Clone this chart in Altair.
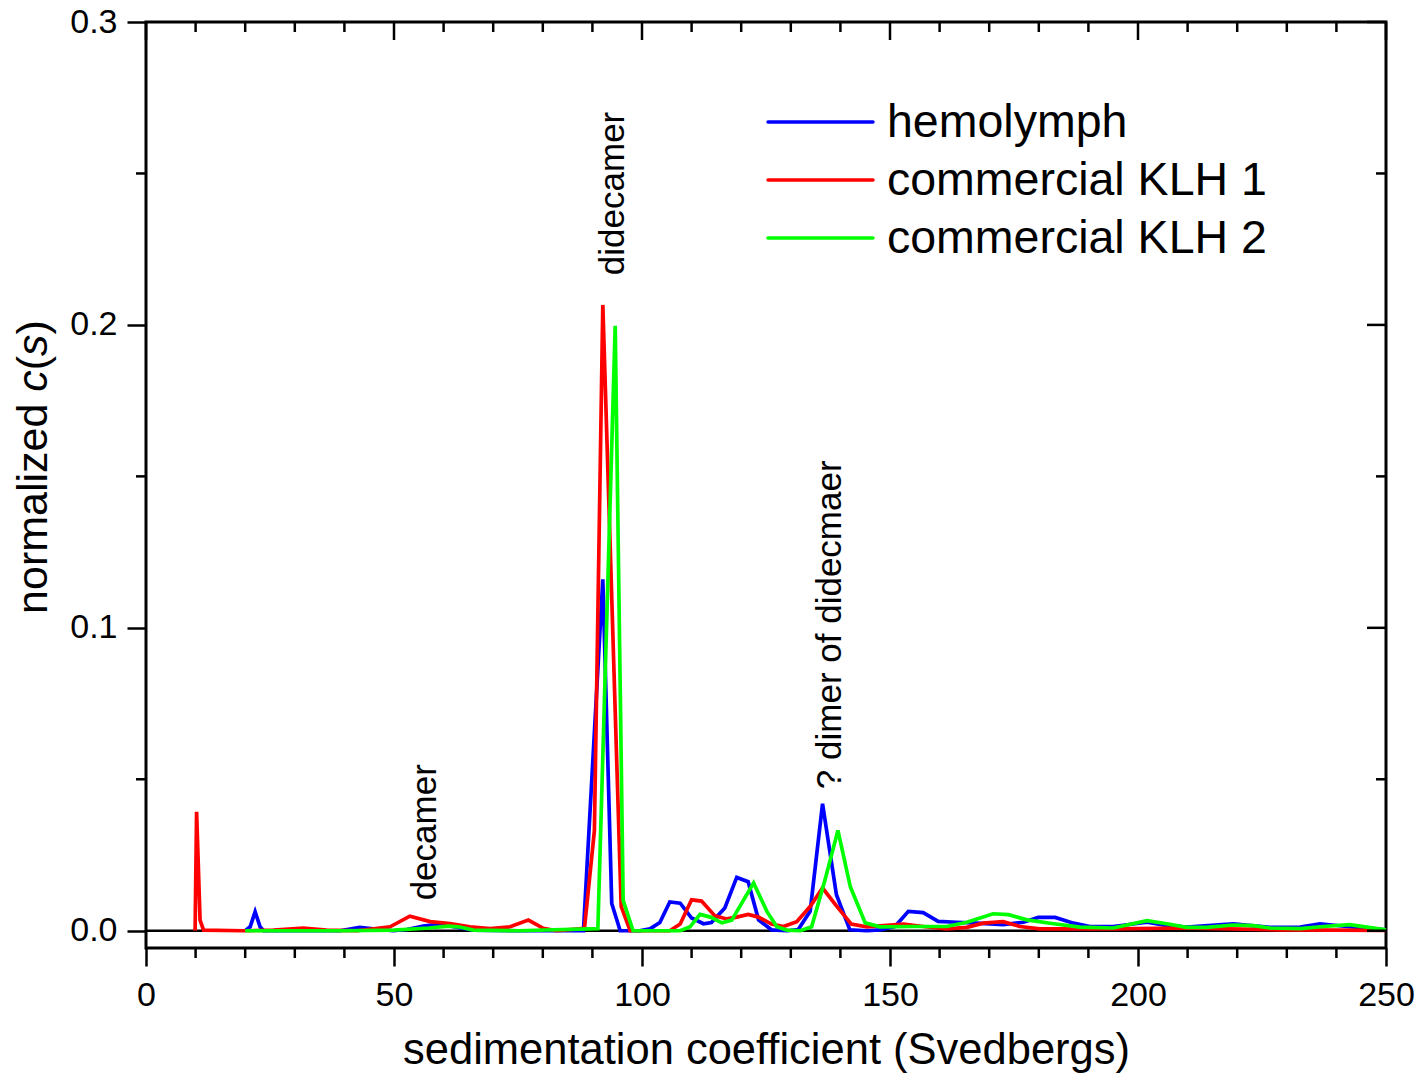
import altair as alt
import pandas as pd

# ---------------- data ----------------
series_names = ["hemolymph", "commercial KLH 1", "commercial KLH 2"]
series_colors = ["#0000ff", "#ff0000", "#00ff00"]

blue_s = [20, 21.0, 22.0, 23.0, 23.7, 30, 39.1, 43.1, 45.8, 49.9, 52.6, 55.9, 59.3, 62.0, 66.0, 75,
          88.2, 92.1, 93.9, 95.6, 99.5, 101.6, 103.6, 105.6, 107.7, 110.0, 112.4, 114.0, 116.7,
          119.1, 121.4, 123.5, 126.1, 129.2, 131.5, 133.9, 136.4, 139.2, 141.9, 145.3, 148.0,
          151.0, 153.7, 156.7, 159.7, 163.4, 167.5, 172.8, 176.9, 179.9, 183.3, 187.0, 190.3,
          195.0, 201.8, 205.1, 209.8, 219.2, 226.6, 232.7, 236.7, 242.1, 250]
blue_c = [0, 0.0013, 0.0063, 0.0013, 0, 0, 0, 0.0011, 0.0006, 0, 0.0004, 0.0015, 0.0022, 0.0013, 0.0002, 0,
          0, 0.116, 0.009, 0, 0, 0.0006, 0.0027, 0.0095, 0.0091, 0.0042, 0.0023, 0.0027, 0.0075,
          0.0176, 0.0162, 0.0036, 0.0003, 0, 0.0004, 0.0064, 0.0419, 0.0119, 0.0003, 0, 0.0003,
          0.0014, 0.0064, 0.0060, 0.0031, 0.0028, 0.0025, 0.0020, 0.0028, 0.0044, 0.0044, 0.0025, 0.0014,
          0.0014, 0.0028, 0.0019, 0.0012, 0.0023, 0.0011, 0.0012, 0.0023, 0.0014, 0.0003]

red_s = [9.9, 10.2, 10.9, 11.6, 19.6, 25.7, 31.7, 36.4, 42.5, 49.2, 53.2, 57.3, 61.3, 65.3, 69.4,
         73.4, 77.1, 80.1, 82.8, 88.4, 90.4, 92.1, 95.8, 97.6, 100, 105.6, 107.7, 110.0, 112.0,
         114.7, 117.1, 119.1, 121.4, 123.5, 126.1, 128.5, 131.2, 133.9, 136.4, 139.2, 142.2,
         145.3, 148.0, 152.7, 156.7, 161.4, 165.5, 168.8, 172.8, 176.2, 180.2, 185.6, 195.0,
         208.5, 228.6, 250]
red_c = [0, 0.0393, 0.0035, 0.0002, 0, 0.0002, 0.0009, 0.0002, 0, 0.0013, 0.0048, 0.0030, 0.0024, 0.0013, 0.0007,
         0.0013, 0.0035, 0.0008, 0, 0.0008, 0.033, 0.2066, 0.008, 0, 0, 0, 0.0022, 0.0102, 0.0098,
         0.0049, 0.0039, 0.0045, 0.0054, 0.0045, 0.0022, 0.0014, 0.0030, 0.0080, 0.0141, 0.0082, 0.0022,
         0.0013, 0.0016, 0.0022, 0.0014, 0.0006, 0.0011, 0.0025, 0.0030, 0.0014, 0.0006, 0.0006, 0.0006,
         0.0009, 0.0003, 0.0001]

green_s = [20, 30, 40, 50, 57.0, 61.0, 63.0, 66.0, 75, 91.1, 94.6, 96.2, 98.2, 105, 107.7, 109.7,
           111.7, 113.8, 116.1, 118.1, 122.5, 125.2, 127.2, 129.2, 131.9, 134.2, 136.9, 139.5,
           142.0, 145.0, 148.0, 154.7, 161.4, 165.5, 170.8, 173.9, 177.6, 183.0, 188.3, 195.0,
           201.8, 205.8, 209.8, 213.8, 219.2, 223.3, 226.6, 232.7, 237.4, 242.7, 250]
green_c = [0, 0, 0, 0.0002, 0.0009, 0.0015, 0.0013, 0.0002, 0, 0.0007, 0.1997, 0.010, 0, 0, 0, 0.0013,
           0.0054, 0.0045, 0.0026, 0.0035, 0.0158, 0.0063, 0.0013, 0.0002, 0, 0.0013, 0.0168, 0.0331,
           0.0145, 0.0026, 0.0013, 0.0014, 0.0014, 0.0028, 0.0056, 0.0053, 0.0036, 0.0023, 0.0012, 0.0009,
           0.0033, 0.0023, 0.0011, 0.0011, 0.0019, 0.0017, 0.0009, 0.0007, 0.0014, 0.0020, 0.0003]

x_major_ticks = [0, 50, 100, 150, 200, 250]
x_minor_ticks = [v for v in range(0, 251, 10) if v % 50 != 0]
y_major_ticks = [0.0, 0.1, 0.2, 0.3]
y_minor_ticks = [0.05, 0.15, 0.25]

annotations = ["didecamer", "decamer", "? dimer of didecmaer"]
annot_s = [94.15, 56.25, 137.9]
annot_c = [0.2434, 0.0325, 0.101]

x_title = "sedimentation coefficient (Svedbergs)"
# y title pieces: (text, italic?)
y_title_parts = [("normalized ", False), ("c", True), ("(", False), ("s", True), (")", False)]

# ---------------- tables ----------------
rows = []
for name, ss, cs in zip(series_names, [blue_s, red_s, green_s], [blue_c, red_c, green_c]):
    for s, c in zip(ss, cs):
        rows.append({"series": name, "s": s, "c": c})
df = pd.DataFrame(rows)

W, H = 1240, 926
FONT = "Liberation Sans"

xscale = alt.Scale(domain=[0, 250], nice=False, zero=False)
yscale = alt.Scale(domain=[-0.0057, 0.3], nice=False, zero=False)

xaxis = alt.Axis(values=x_major_ticks, format="d", tickSize=18, tickWidth=2.5, tickColor="black",
                 domain=False, grid=False, labelFontSize=34, labelPadding=12, labelColor="black",
                 labelFont=FONT, labelFlush=False,
                 title=x_title, titleFontSize=43.5,
                 titleFontWeight="normal", titleFont=FONT, titleColor="black",
                 titleY=115, titleBaseline="alphabetic")
yaxis = alt.Axis(values=y_major_ticks, format=".1f", tickSize=19, tickWidth=2.5, tickColor="black",
                 domain=False, grid=False, labelFontSize=34, labelPadding=10, labelColor="black",
                 labelFont=FONT, labelFlush=False, title="")

x_enc = alt.X("s:Q", scale=xscale, axis=xaxis)
y_enc = alt.Y("c:Q", scale=yscale, axis=yaxis)

zero = alt.Chart(pd.DataFrame({"c": [0.0]})).mark_rule(color="black", strokeWidth=2.5).encode(y=y_enc)

lines = alt.Chart(df).mark_line(strokeWidth=3.7).encode(
    x=x_enc, y=y_enc,
    color=alt.Color("series:N", scale=alt.Scale(domain=series_names, range=series_colors), legend=None),
)

xmaj = pd.DataFrame({"s": x_major_ticks})
xmin = pd.DataFrame({"s": x_minor_ticks})
ymaj = pd.DataFrame({"c": y_major_ticks})
ymin = pd.DataFrame({"c": y_minor_ticks})

tick_style = dict(color="black", strokeWidth=2.5)
top_major = alt.Chart(xmaj).mark_rule(**tick_style).encode(x=x_enc, y=alt.value(0), y2=alt.value(18))
top_minor = alt.Chart(xmin).mark_rule(**tick_style).encode(x=x_enc, y=alt.value(0), y2=alt.value(10))
bot_minor = alt.Chart(xmin).mark_rule(**tick_style).encode(x=x_enc, y=alt.value(H), y2=alt.value(H + 10))
right_major = alt.Chart(ymaj).mark_rule(**tick_style).encode(y=y_enc, x=alt.value(W - 19), x2=alt.value(W))
right_minor = alt.Chart(ymin).mark_rule(**tick_style).encode(y=y_enc, x=alt.value(W - 10), x2=alt.value(W))
left_minor = alt.Chart(ymin).mark_rule(**tick_style).encode(y=y_enc, x=alt.value(-10), x2=alt.value(0))

annot_df = pd.DataFrame({"label": annotations, "s": annot_s, "c": annot_c})
annot = alt.Chart(annot_df).mark_text(angle=270, fontSize=35, font=FONT, color="black",
                                      align="center", baseline="middle").encode(
    x=x_enc, y=y_enc, text="label:N")

one = pd.DataFrame({"a": [0]})

# y-axis title with italic c and s, set piece by piece (rotated, reading upward)
CHAR_W = {"n": .556, "o": .556, "r": .333, "m": .833, "a": .556, "l": .222, "i": .222,
          "z": .5, "e": .556, "d": .556, " ": .278, "c": .5, "(": .333, "s": .5, ")": .333}
YT_SIZE = 43
total = sum(CHAR_W[ch] for t, _ in y_title_parts for ch in t) * YT_SIZE
pos = 445 + total / 2
ytitle_layers = []
for t, ital in y_title_parts:
    ytitle_layers.append(
        alt.Chart(one).mark_text(text=t.strip(), angle=270, fontSize=YT_SIZE, font=FONT,
                                 fontStyle="italic" if ital else "normal", color="black",
                                 align="left", baseline="alphabetic").encode(
            x=alt.value(-99), y=alt.value(pos)))
    pos -= sum(CHAR_W[ch] for ch in t) * YT_SIZE

# manual legend
legend_layers = []
leg_y = [100, 158, 216]
for name, col, yy in zip(series_names, series_colors, leg_y):
    legend_layers.append(
        alt.Chart(one).mark_rule(color=col, strokeWidth=3.5, strokeCap="round").encode(
            x=alt.value(622), x2=alt.value(727), y=alt.value(yy)))
    legend_layers.append(
        alt.Chart(one).mark_text(text=name, fontSize=46.5, font=FONT, color="black",
                                 align="left", baseline="middle").encode(
            x=alt.value(741), y=alt.value(yy + 1)))

chart = alt.layer(
    zero, lines, top_major, top_minor, bot_minor, right_major, right_minor, left_minor, annot,
    *ytitle_layers, *legend_layers
).properties(
    width=W, height=H,
    autosize=alt.AutoSizeParams(type="none"),
    padding={"left": 146, "top": 22, "right": 35, "bottom": 1074 - 22 - H},
    background="white",
).configure(font=FONT).configure_view(stroke="black", strokeWidth=3)

chart.save("out.html", embed_options={"renderer": "svg", "actions": False})
